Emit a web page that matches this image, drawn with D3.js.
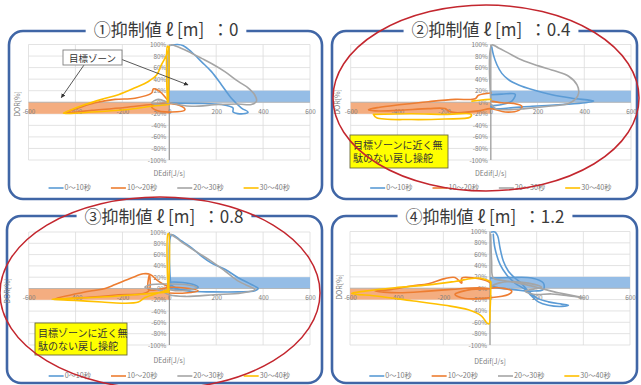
<!DOCTYPE html>
<html>
<head>
<meta charset="utf-8">
<script src="https://cdn.jsdelivr.net/npm/d3@7"></script>
<style>
  html, body { margin: 0; padding: 0; background: #fff; }
  svg { display: block; }
  .ttl { white-space: pre; }
</style>
</head>
<body>
<svg id="chart" width="641" height="385"></svg>
<script>
// ---- series / labels ----
const seriesNames  = ["0～10秒", "10～20秒", "20～30秒", "30～40秒"];
const seriesColors = ["#5b9bd5", "#ed7d31", "#a5a5a5", "#ffc000"];
const panelTitles  = ["①抑制値 ℓ [m]  ：0", "②抑制値 ℓ [m]  ：0.4", "③抑制値 ℓ [m]  ：0.8", "④抑制値 ℓ [m]  ：1.2"];
const xTicks = [-600, -400, -200, 0, 200, 400, 600];
const yTicks = [-100, -80, -60, -40, -20, 0, 20, 40, 60, 80, 100];
const xTitle = "DEdif[J/s]";
const yTitle = "DOR[%]";
const zoneNote = "目標ゾーン";
const returnNote = ["目標ゾーンに近く無", "駄のない戻し操舵"];

// target zones: [xmin, xmax, ymin, ymax]
const zoneRight = [0, 600, 0, 20];
const zoneLeft  = [-600, 0, -20, 0];

// ---- trajectories [DEdif, DOR%], one array of segments per series ----
// ℓ = 0
const lim0_t0  = [[[10,99],[35,100],[60,98],[95,87],[138,70],[180,53],[223,30],[265,7],[308,-10],[336,-17],[315,-20],[272,-17],[272,-10],[223,-4],[123,-2],[0,-1]]];
const lim0_t10 = [[[0,0],[-33,16],[-54,22],[-68,23],[-75,16],[-146,7],[-231,5],[-316,-1],[-387,-10],[-444,-18],[-330,-14],[-189,-9],[-75,-4],[0,-2],[52,-7],[67,-13],[10,-17],[-61,-13],[-75,-7],[0,-3]]];
const lim0_t20 = [[[0,-1],[4,99],[30,97],[95,85],[138,76],[180,67],[237,53],[294,36],[336,25],[364,13],[372,2],[350,-4],[294,-3],[209,-4],[95,-7],[38,-4],[0,-1],[-47,5],[-75,-1],[-30,-4],[0,-2]]];
const lim0_t30 = [[[-5,0],[-5,97],[-8,97],[-8,0]],
                  [[0,96],[-11,82],[-33,65],[-54,47],[-89,36],[-146,25],[-217,13],[-288,5],[-359,-4],[-430,-15],[-451,-19],[-330,-17],[-189,-13],[-75,-7],[0,-4]]];
// ℓ = 0.4
const lim4_t0  = [[[4,96],[11,82],[26,65],[47,50],[76,39],[119,30],[176,22],[261,13],[347,7],[440,2],[404,-1],[304,-4],[176,-7],[76,-10],[19,-11],[0,-7],[47,-4],[90,2],[104,14],[47,14],[0,13]]];
const lim4_t10 = [[[0,16],[-53,12],[-67,6],[-153,5],[-267,1],[-381,-4],[-481,-9],[-524,-13],[-496,-15],[-396,-14],[-267,-11],[-196,-11],[-181,-15],[-153,-18],[-53,-15],[0,-11],[61,-17],[119,-14],[133,-7],[97,-2],[47,-1],[0,2]]];
const lim4_t20 = [[[0,2],[4,99],[33,94],[76,85],[133,73],[204,63],[276,54],[333,45],[369,30],[376,16],[361,5],[333,-2],[247,-7],[147,-11],[61,-13],[19,-11],[4,-4]]];
const lim4_t30 = [[[-503,-21],[-489,-27],[-339,-30],[-196,-29],[-89,-26],[-84,-21],[-196,-21],[-339,-20],[-503,-21]],
                  [[-81,2],[-40,4],[0,5]]];
// ℓ = 0.8
const lim8_t0  = [[[6,4],[10,95],[52,84],[95,72],[138,57],[180,45],[237,34],[294,19],[350,7],[379,0],[365,-4],[294,-6],[180,-6],[95,-5],[38,-1],[0,10],[95,8],[123,2],[67,-2],[0,0]]];
const lim8_t10 = [[[0,2],[-47,13],[-82,25],[-111,26],[-160,19],[-231,7],[-274,0],[-330,-4],[-416,-11],[-487,-18],[-359,-16],[-217,-11],[-89,-5],[-85,25],[-89,-2],[-40,-1],[0,2],[67,1],[123,-4],[67,-8],[0,-8]]];
const lim8_t20 = [[[6,96],[31,89],[67,78],[123,63],[180,48],[237,31],[294,13],[350,2],[365,-2],[308,-8],[194,-11],[67,-14],[0,-11],[-47,-2],[-104,2],[-75,7],[-4,8],[67,7],[116,2],[52,-4],[0,-2]]];
const lim8_t30 = [[[-3,-2],[-3,97],[-6,97],[-6,-2]],
                  [[0,-2],[-47,-8],[-104,-16],[-132,-24],[-203,-26],[-288,-24],[-401,-21],[-501,-19],[-330,-16],[-146,-11],[0,-6]]];
// ℓ = 1.2
const lim12_t0  = [[[7,99],[21,99],[33,92],[43,71],[57,48],[79,30],[107,18],[136,8],[164,-5],[200,-17],[250,-24],[307,-28],[336,-30],[307,-32],[250,-30],[207,-24],[179,-14],[150,-2],[107,9],[71,24],[43,42],[21,71],[14,95]],
                   [[3,18],[93,19],[179,18],[229,9],[229,-2],[179,-5],[93,-2],[21,2],[3,6]]];
const lim12_t10 = [[[3,9],[-21,14],[-121,18],[-121,9],[-150,19],[-193,17],[-264,8],[-336,4],[-421,-2],[-493,-5],[-393,-8],[-264,-5],[-164,-2],[-50,1],[0,-1],[-79,-2],[-150,-11],[-107,-18],[-7,-17],[79,-11],[93,-5],[36,1],[3,0]]];
const lim12_t20 = [[[3,95],[7,48],[14,18],[50,14],[121,9],[207,1],[293,-8],[407,-17],[350,-14],[264,-10],[193,-11],[150,-5],[221,2],[164,9],[93,12],[36,9],[3,3]]];
const lim12_t30 = [[[3,12],[-50,18],[-150,12],[-264,6],[-407,1],[-536,-5],[-593,-9],[-479,-14],[-336,-22],[-193,-30],[-93,-38],[-36,-49],[-14,-61],[-4,-63],[0,-41],[3,-11],[3,12]]];

const panelSeries = [
  [lim0_t0, lim0_t10, lim0_t20, lim0_t30],
  [lim4_t0, lim4_t10, lim4_t20, lim4_t30],
  [lim8_t0, lim8_t10, lim8_t20, lim8_t30],
  [lim12_t0, lim12_t10, lim12_t20, lim12_t30]
];

// ---- layout of the four panels ----
const layout = [
  { box:[9,31,313,168],   plot:[28.5,310,44.5,160],  titleX:166, titleY:28.5, xTitleY:174, legendY:188, yTitleX:18,  yTitleY:104 },
  { box:[332,31,305,168], plot:[350.7,631,44.5,160], titleX:491, titleY:28.5, xTitleY:174, legendY:188, yTitleX:338, yTitleY:102 },
  { box:[7,216,315,167],  plot:[28.7,310,232,345],   titleX:164, titleY:215.5, xTitleY:361, legendY:376, yTitleX:8,   yTitleY:291 },
  { box:[332,216,305,167],plot:[350,630,231.5,345],  titleX:485, titleY:215.5, xTitleY:362, legendY:376, yTitleX:340, yTitleY:287 }
];

const svg = d3.select("#chart");
const FONT = "'Noto Sans CJK JP', 'Noto Sans', sans-serif";

layout.forEach((L, i) => {
  const g = svg.append("g");
  const [px0, px1, py0, py1] = L.plot;
  const x = d3.scaleLinear().domain([-600, 600]).range([px0, px1]);
  const y = d3.scaleLinear().domain([-100, 100]).range([py1, py0]);

  // panel frame
  g.append("rect")
    .attr("x", L.box[0]).attr("y", L.box[1])
    .attr("width", L.box[2]).attr("height", L.box[3])
    .attr("rx", 14).attr("ry", 14)
    .attr("fill", "#fff").attr("stroke", "#4066a6").attr("stroke-width", 2.6);

  // gridlines
  g.append("g").selectAll("line").data(xTicks).join("line")
    .attr("x1", d => x(d)).attr("x2", d => x(d)).attr("y1", y(100)).attr("y2", y(-100))
    .attr("stroke", "#dcdcdc").attr("stroke-width", 0.8);
  g.append("g").selectAll("line").data(yTicks).join("line")
    .attr("x1", x(-600)).attr("x2", x(600)).attr("y1", d => y(d)).attr("y2", d => y(d))
    .attr("stroke", "#dcdcdc").attr("stroke-width", 0.8);

  // target zones
  [[zoneRight, "#95bde6"], [zoneLeft, "#f4ad80"]].forEach(([z, c]) => {
    g.append("rect")
      .attr("x", x(z[0])).attr("y", y(z[3]))
      .attr("width", x(z[1]) - x(z[0])).attr("height", y(z[2]) - y(z[3]))
      .attr("fill", c);
  });

  // axes (labels only; lines drawn separately)
  const yAxis = d3.axisLeft(y).tickValues(yTicks).tickSize(0).tickPadding(3)
    .tickFormat(d => d + "%");
  const ya = g.append("g").attr("transform", `translate(${x(0)},0)`).call(yAxis);
  ya.select(".domain").remove();
  ya.selectAll("text").attr("font-family", FONT).attr("font-size", 6.3).attr("fill", "#7d7d7d");

  const xAxis = d3.axisBottom(x).tickValues(xTicks).tickSize(0).tickPadding(0)
    .tickFormat(d => d);
  const xa = g.append("g").attr("transform", `translate(0,${y(0) + 7})`).call(xAxis);
  xa.select(".domain").remove();
  xa.selectAll("text").attr("font-family", FONT).attr("font-size", 6.3).attr("fill", "#7d7d7d");

  g.append("line")
    .attr("x1", x(0)).attr("x2", x(0)).attr("y1", y(100)).attr("y2", y(-100))
    .attr("stroke", "#8c8c8c").attr("stroke-width", 1);
  g.append("line")
    .attr("x1", x(-600)).attr("x2", x(600)).attr("y1", y(0)).attr("y2", y(0))
    .attr("stroke", "#b0b0b0").attr("stroke-width", 0.8);

  // trajectories
  const line = d3.line().x(d => x(d[0])).y(d => y(d[1])).curve(d3.curveCatmullRom.alpha(0.5));
  panelSeries[i].forEach((segs, s) => {
    g.append("g").selectAll("path").data(segs).join("path")
      .attr("d", line)
      .attr("fill", "none")
      .attr("stroke", seriesColors[s])
      .attr("stroke-width", 1.6)
      .attr("stroke-linejoin", "round")
      .attr("stroke-linecap", "round");
  });

  // axis titles
  g.append("text").attr("x", (px0 + px1) / 2).attr("y", L.xTitleY)
    .attr("text-anchor", "middle").attr("dominant-baseline", "middle")
    .attr("font-family", FONT).attr("font-size", 7).attr("fill", "#7d7d7d").text(xTitle);
  g.append("text")
    .attr("transform", `translate(${L.yTitleX},${L.yTitleY}) rotate(-90)`)
    .attr("text-anchor", "middle").attr("dominant-baseline", "middle")
    .attr("font-family", FONT).attr("font-size", 7).attr("fill", "#7d7d7d").text(yTitle);

  // legend
  const lg = g.append("g");
  const items = seriesNames.map((name, s) => {
    const it = lg.append("g");
    it.append("line").attr("x1", 0).attr("x2", 15).attr("y1", 0).attr("y2", 0)
      .attr("stroke", seriesColors[s]).attr("stroke-width", 1.6);
    const t = it.append("text").attr("x", 16).attr("y", 0).attr("dominant-baseline", "middle")
      .attr("font-family", FONT).attr("font-size", 7.2).attr("fill", "#7d7d7d").text(name);
    return { it, w: 16 + t.node().getComputedTextLength() };
  });
  const gap = 20;
  const total = d3.sum(items, d => d.w) + gap * (items.length - 1);
  let cx = (px0 + px1) / 2 - total / 2;
  items.forEach(d => { d.it.attr("transform", `translate(${cx},${L.legendY})`); cx += d.w + gap; });

  // panel title; a thin white strip breaks the frame line behind it
  const tg = g.append("g");
  const bg = tg.append("rect").attr("fill", "#fff");
  const tt = tg.append("text").attr("class", "ttl").attr("x", L.titleX).attr("y", L.titleY)
    .attr("text-anchor", "middle").attr("dominant-baseline", "central")
    .attr("font-family", FONT).attr("font-size", 17).attr("fill", "#3a3a3a")
    .text(panelTitles[i]);
  const w = tt.node().getComputedTextLength();
  bg.attr("x", L.titleX - w / 2 - 8).attr("y", L.box[1] - 4).attr("width", w + 16).attr("height", 8);
});

// ---- annotations ----
const defs = svg.append("defs");
defs.append("marker").attr("id", "arrow").attr("viewBox", "0 0 10 10")
  .attr("refX", 9).attr("refY", 5).attr("markerWidth", 5).attr("markerHeight", 5)
  .attr("orient", "auto")
  .append("path").attr("d", "M0,0 L10,5 L0,10 z").attr("fill", "#333");

{
  const L = layout[0];
  const x = d3.scaleLinear().domain([-600, 600]).range([L.plot[0], L.plot[1]]);
  const y = d3.scaleLinear().domain([-100, 100]).range([L.plot[3], L.plot[2]]);
  const a = svg.append("g");
  a.append("line").attr("x1", 84).attr("y1", 65).attr("x2", x(-460)).attr("y2", y(8))
    .attr("stroke", "#444").attr("stroke-width", 0.9).attr("marker-end", "url(#arrow)");
  a.append("line").attr("x1", 118).attr("y1", 58).attr("x2", x(80)).attr("y2", y(30))
    .attr("stroke", "#444").attr("stroke-width", 0.9).attr("marker-end", "url(#arrow)");
  a.append("rect").attr("x", 63).attr("y", 50).attr("width", 59).attr("height", 15)
    .attr("fill", "#fff").attr("stroke", "#7f7f7f").attr("stroke-width", 0.9);
  a.append("text").attr("x", 92.5).attr("y", 57.8).attr("text-anchor", "middle")
    .attr("dominant-baseline", "central").attr("font-family", FONT).attr("font-size", 9.5)
    .attr("fill", "#333").text(zoneNote);
}

[[350, 135, 98, 33], [35, 323, 92, 32]].forEach(([bx, by, bw, bh]) => {
  const a = svg.append("g");
  a.append("rect").attr("x", bx).attr("y", by).attr("width", bw).attr("height", bh)
    .attr("fill", "#ffff00").attr("stroke", "#6b6b3a").attr("stroke-width", 0.9);
  returnNote.forEach((t, k) => {
    a.append("text").attr("x", bx + 3).attr("y", by + 9 + k * 13.5)
      .attr("dominant-baseline", "central").attr("font-family", FONT).attr("font-size", 10)
      .attr("fill", "#333").text(t);
  });
});

// red ellipses around panels ② and ③
[[486, 98, 153, 93], [160, 293, 160, 96]].forEach(([cx, cy, rx, ry]) => {
  svg.append("ellipse").attr("cx", cx).attr("cy", cy).attr("rx", rx).attr("ry", ry)
    .attr("fill", "none").attr("stroke", "#c3262e").attr("stroke-width", 1.5);
});
</script>
</body>
</html>
